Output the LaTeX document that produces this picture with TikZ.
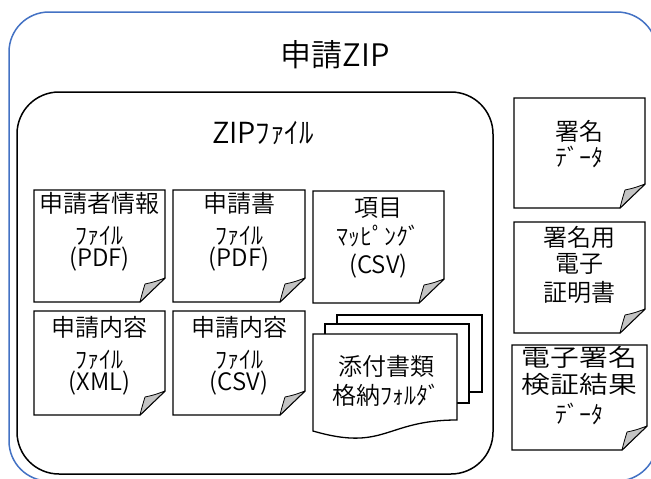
\documentclass[tikz,border=0pt]{standalone}
\usepackage{fontspec}
\IfFontExistsTF{Noto Sans CJK JP DemiLight}
  {\setmainfont{Noto Sans CJK JP DemiLight}}
  {\setmainfont{Noto Sans CJK JP}}
\usepackage{graphicx}
\definecolor{outerblue}{HTML}{4472C4}
\definecolor{flapgray}{HTML}{C4C4C4}
\tikzset{
  outerbox/.style={draw=outerblue, line width=1.5pt, rounded corners=40pt},
  innerbox/.style={draw=black, line width=1.5pt, rounded corners=42pt},
  pagebox/.style={draw=black, line width=1.3pt, fill=white, line join=miter},
  flap/.style={draw=black, line width=0.8pt, fill=flapgray, line join=round},
  txt/.style={inner sep=0pt, font=\fontsize{24}{28}\selectfont},
  bigtitle/.style={inner sep=0pt, font=\fontsize{31}{36}\selectfont},
  midtitle/.style={inner sep=0pt, font=\fontsize{29}{34}\selectfont},
}
\newcommand\foldpage[5]{%
  \path[pagebox] (#2,#3) -- (#4,#3) -- (#4,#5-24) -- (#4-25,#5) -- (#2,#5) -- cycle;
  \path[flap] (#4-25,#5) .. controls (#4-23,#5-8) .. (#4-20,#5-18)
     .. controls (#4-11,#5-20) .. (#4,#5-24) -- cycle;
  \coordinate (#1) at ({(#2+#4)/2},{(#3+#5)/2});
}
\begin{document}
\begin{tikzpicture}[x=1pt, y=-1pt]
\clip (0,0) rectangle (651,479);
\fill[white] (0,0) rectangle (651,479);
% outer package
\draw[outerbox] (9,12) rectangle (657,481);
\node[bigtitle] (outertitle) at (335,55) {申請ZIP};
% inner zip
\draw[innerbox] (17,92) rectangle (493,474);
\node[midtitle] (innertitle) at (263,133) {ZIPﾌｧｲﾙ};
% row 1
\foldpage{p1}{34}{190}{165}{302}
\node[txt] (p1a) at (99.5,203) {申請者情報};
\node[txt] (p1b) at (99.5,236) {ﾌｧｲﾙ};
\node[txt] (p1c) at (99.5,259) {(PDF)};
\foldpage{p2}{173}{190}{305}{302}
\node[txt] (p2a) at (239,203) {申請書};
\node[txt] (p2b) at (239,236) {ﾌｧｲﾙ};
\node[txt] (p2c) at (239,259) {(PDF)};
\foldpage{p3}{313}{191}{444}{303}
\node[txt] (p3a) at (378.5,208) {項目};
\node[txt] (p3b) at (378.5,236) {ﾏｯﾋﾟﾝｸﾞ};
\node[txt] (p3c) at (378.5,266) {(CSV)};
% row 2
\foldpage{p4}{34}{311}{165}{415}
\node[txt] (p4a) at (99.5,327) {申請内容};
\node[txt] (p4b) at (99.5,360) {ﾌｧｲﾙ};
\node[txt] (p4c) at (99.5,383) {(XML)};
\foldpage{p5}{173}{311}{305}{415}
\node[txt] (p5a) at (239,327) {申請内容};
\node[txt] (p5b) at (239,360) {ﾌｧｲﾙ};
\node[txt] (p5c) at (239,383) {(CSV)};
% folder (multi document)
\path[pagebox] (337,315) rectangle (482,392);
\path[pagebox] (325,324) rectangle (469,403);
\path[pagebox] (313,334) -- (457,334) -- (457,420)
   .. controls (385,420) and (385,452) .. (313,431) -- cycle;
\node[txt] (fa) at (386,366) {添付書類};
\node[txt] (fb) at (386,395) {格納ﾌｫﾙﾀﾞ};
% right column
\foldpage{r1}{514}{98}{645}{208}
\node[txt] (r1a) at (579.5,131) {署名};
\node[txt] (r1b) at (579.5,157) {ﾃﾞｰﾀ};
\foldpage{r2}{514}{222}{645}{333}
\node[txt] (r2a) at (579.5,237) {署名用};
\node[txt] (r2b) at (579.5,264) {電子};
\node[txt] (r2c) at (579.5,292) {証明書};
\foldpage{r3}{512}{345}{647}{450}
\node[txt] (r3a) at (579.5,357) {\scalebox{1.2}[1]{電子署名}};
\node[txt] (r3b) at (579.5,384) {\scalebox{1.2}[1]{検証結果}};
\node[txt] (r3c) at (579.5,414) {ﾃﾞｰﾀ};
\end{tikzpicture}
\end{document}
